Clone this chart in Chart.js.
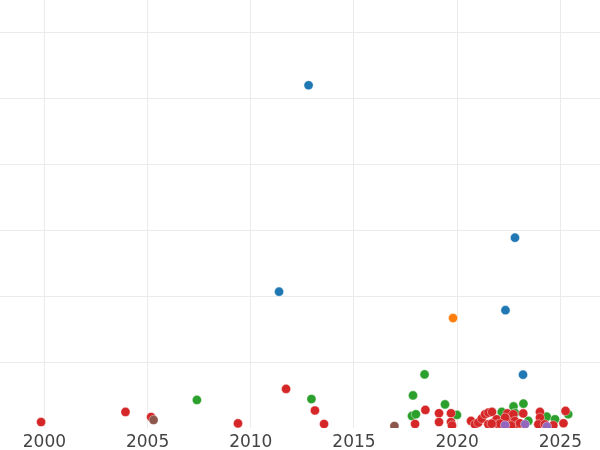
<!DOCTYPE html>
<html>
<head>
<meta charset="utf-8">
<script src="https://cdn.jsdelivr.net/npm/chart.js@4/dist/chart.umd.min.js"></script>
<style>
  html, body { margin: 0; padding: 0; background: #fff; }
  #wrap { width: 600px; height: 450px; }
</style>
</head>
<body>
<div id="wrap"><canvas id="scatterChart"></canvas></div>
<script>
// data
var xTicks = [2000, 2005, 2010, 2015, 2020, 2025];

var blueYears = [2012.8, 2022.8, 2011.37, 2022.34, 2023.19];
var blueValues = [520.5, 289, 207, 179, 81];

var orangeYears = [2019.8];
var orangeValues = [167];

var greenYears = [2007.39, 2012.94, 2018.42, 2017.86, 2019.41, 2017.81, 2018.0, 2019.99,
    2022.16, 2022.73, 2022.8, 2023.21, 2023.45, 2024.34, 2024.74, 2025.38];
var greenValues = [42.6, 44, 81.4, 49.5, 35.8, 18.3, 20.9, 19.8,
    24.4, 32.7, 22.8, 37, 10.7, 17.2, 13.2, 20.9];

var redYears = [1999.84, 2003.93, 2005.17, 2009.38, 2011.71, 2013.11, 2013.55, 2017.96,
    2018.46, 2019.12, 2019.12, 2019.7, 2019.7, 2019.75, 2020.67, 2020.86, 2021.02, 2021.19,
    2021.35, 2021.51, 2021.69, 2021.51, 2021.75, 2021.91, 2021.99, 2022.43, 2022.48, 2022.72,
    2022.8, 2022.93, 2023.04, 2023.2, 2022.61, 2024.01, 2024.01, 2023.93, 2024.25, 2024.66,
    2025.15, 2025.25, 2022.32, 2022.08, 2021.67];
var redValues = [9.1, 24.4, 16.7, 7, 59.4, 26.6, 6.1, 6.1,
    27.4, 22.4, 9.1, 22.4, 9.1, 3.8, 10.7, 5.3, 8.1, 14.2,
    20.9, 23.3, 24.4, 5.6, 8.1, 13.2, 5.6, 22.1, 12.2, 20.9,
    10.7, 4.1, 7.2, 22.1, 3.8, 24.4, 15.7, 5.6, 5.6, 4.1,
    7.2, 25.9, 15.7, 6.5, 6.5];

var purpleYears = [2022.32, 2023.29, 2024.35];
var purpleValues = [4.1, 5.6, 2.3];

var brownYears = [2005.29, 2016.96];
var brownValues = [12.2, 3.0];

function toPoints(xs, ys) {
    var pts = [];
    for (var i = 0; i < xs.length; i++) {
        pts.push({ x: xs[i], y: ys[i] });
    }
    return pts;
}

function makeSet(label, xs, ys, color, order) {
    return {
        label: label,
        data: toPoints(xs, ys),
        backgroundColor: color,
        borderColor: "rgba(255,255,255,0.8)",
        borderWidth: 0.5,
        pointRadius: 4.6,
        pointHoverRadius: 4.6,
        clip: 0,
        order: order,
    };
}

var ctx = document.getElementById("scatterChart").getContext("2d");
var myChart = new Chart(ctx, {
    type: "scatter",
    data: {
        datasets: [
            makeSet("A", blueYears, blueValues, "#1f77b4", 5),
            makeSet("B", orangeYears, orangeValues, "#ff7f0e", 4),
            makeSet("C", greenYears, greenValues, "#2ca02c", 3),
            makeSet("D", redYears, redValues, "#d62728", 2),
            makeSet("E", purpleYears, purpleValues, "#9467bd", 1),
            makeSet("F", brownYears, brownValues, "#8c564b", 0),
        ],
    },
    options: {
        responsive: true,
        maintainAspectRatio: false,
        animation: false,
        layout: { padding: 0, autoPadding: false },
        plugins: {
            legend: { display: false },
            tooltip: { enabled: false },
        },
        scales: {
            x: {
                type: "linear",
                min: 1997.85,
                max: 2026.92,
                afterBuildTicks: function (axis) {
                    axis.ticks = xTicks.map(function (v) { return { value: v }; });
                },
                afterFit: function (axis) {
                    axis.height = 22;
                },
                ticks: {
                    includeBounds: false,
                    autoSkip: false,
                    maxRotation: 0,
                    padding: 4,
                    color: "#444444",
                    font: { family: "DejaVu Sans", size: 17 },
                    callback: function (v) { return String(v); },
                },
                grid: { color: "#ebebeb", lineWidth: 1, drawTicks: false },
                border: { display: false },
            },
            y: {
                min: 0,
                max: 650,
                ticks: { display: false, stepSize: 100, includeBounds: false },
                grid: {
                    drawTicks: false,
                    lineWidth: 1,
                    color: function (c) {
                        return c.tick && c.tick.value === 0 ? "rgba(0,0,0,0)" : "#ebebeb";
                    },
                },
                border: { display: false },
            },
        },
    },
});
</script>
</body>
</html>
